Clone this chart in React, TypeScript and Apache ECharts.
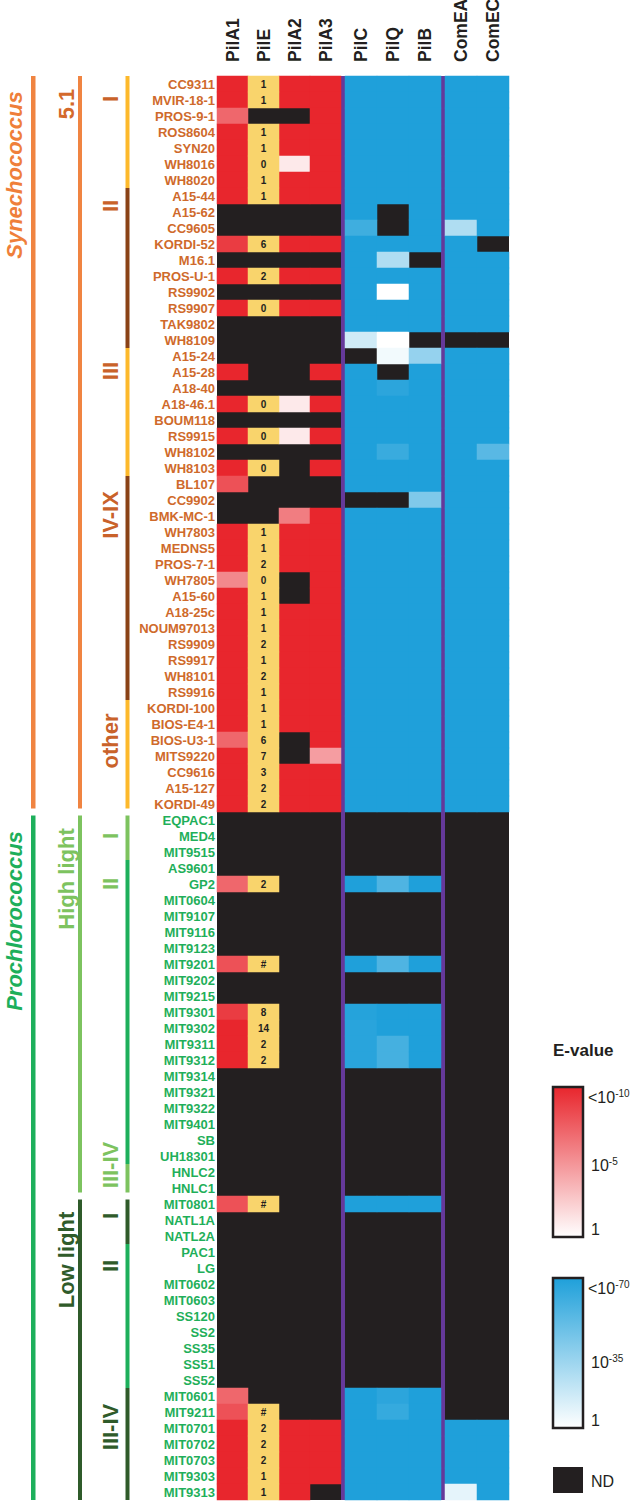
import React, { useEffect, useRef } from 'react';
import * as echarts from 'echarts';

// ---------------- data ----------------
const strains = [
  'CC9311', 'MVIR-18-1', 'PROS-9-1', 'ROS8604', 'SYN20', 'WH8016', 'WH8020', 'A15-44', 'A15-62', 'CC9605',
  'KORDI-52', 'M16.1', 'PROS-U-1', 'RS9902', 'RS9907', 'TAK9802', 'WH8109', 'A15-24', 'A15-28', 'A18-40',
  'A18-46.1', 'BOUM118', 'RS9915', 'WH8102', 'WH8103', 'BL107', 'CC9902', 'BMK-MC-1', 'WH7803', 'MEDNS5',
  'PROS-7-1', 'WH7805', 'A15-60', 'A18-25c', 'NOUM97013', 'RS9909', 'RS9917', 'WH8101', 'RS9916', 'KORDI-100',
  'BIOS-E4-1', 'BIOS-U3-1', 'MITS9220', 'CC9616', 'A15-127', 'KORDI-49', 'EQPAC1', 'MED4', 'MIT9515', 'AS9601',
  'GP2', 'MIT0604', 'MIT9107', 'MIT9116', 'MIT9123', 'MIT9201', 'MIT9202', 'MIT9215', 'MIT9301', 'MIT9302',
  'MIT9311', 'MIT9312', 'MIT9314', 'MIT9321', 'MIT9322', 'MIT9401', 'SB', 'UH18301', 'HNLC2', 'HNLC1',
  'MIT0801', 'NATL1A', 'NATL2A', 'PAC1', 'LG', 'MIT0602', 'MIT0603', 'SS120', 'SS2', 'SS35',
  'SS51', 'SS52', 'MIT0601', 'MIT9211', 'MIT0701', 'MIT0702', 'MIT0703', 'MIT9303', 'MIT9313',
];
const SYN_COUNT = 46;

const colsA = ['PilA1', 'PilE', 'PilA2', 'PilA3'];
const colsB = ['PilC', 'PilQ', 'PilB'];
const colsC = ['ComEA', 'ComEC'];

// E-value exponents (log10); null = not detected
const R = -10; // <1e-10
const B = -70; // <1e-70
const N = null;

const pilA1 = [
  R, R, -7, R, R, R, R, R, N, N,
  -9, N, R, N, R, N, N, N, R, N,
  R, N, R, N, R, -8, N, N, R, R,
  R, -5.5, R, R, R, R, R, R, R, R,
  R, -7, R, R, R, R, N, N, N, N,
  -7, N, N, N, N, -8, N, N, -9, R,
  R, R, N, N, N, N, N, N, N, N,
  -8, N, N, N, N, N, N, N, N, N,
  N, N, -7, -8, R, R, R, R, R,
];
const pilECount = [
  '1', '1', N, '1', '1', '0', '1', '1', N, N,
  '6', N, '2', N, '0', N, N, N, N, N,
  '0', N, '0', N, '0', N, N, N, '1', '1',
  '2', '0', '1', '1', '1', '2', '1', '2', '1', '1',
  '1', '6', '7', '3', '2', '2', N, N, N, N,
  '2', N, N, N, N, '#', N, N, '8', '14',
  '2', '2', N, N, N, N, N, N, N, N,
  '#', N, N, N, N, N, N, N, N, N,
  N, N, N, '#', '2', '2', '2', '1', '1',
];
const pilA2 = [
  R, R, N, R, R, -1, R, R, N, N,
  R, N, R, N, R, N, N, N, N, N,
  -1, N, -1, N, N, N, N, -6, R, R,
  R, N, N, R, R, R, R, R, R, R,
  R, N, N, R, R, R, N, N, N, N,
  N, N, N, N, N, N, N, N, N, N,
  N, N, N, N, N, N, N, N, N, N,
  N, N, N, N, N, N, N, N, N, N,
  N, N, N, N, R, R, R, R, R,
];
const pilA3 = [
  R, R, R, R, R, R, R, R, N, N,
  R, N, R, N, R, N, N, N, R, N,
  R, N, R, N, R, N, N, R, R, R,
  R, R, R, R, R, R, R, R, R, R,
  R, R, -4.5, R, R, R, N, N, N, N,
  N, N, N, N, N, N, N, N, N, N,
  N, N, N, N, N, N, N, N, N, N,
  N, N, N, N, N, N, N, N, N, N,
  N, N, N, N, R, R, R, R, N,
];
const pilC = [
  B, B, B, B, B, B, B, B, B, -60,
  B, B, B, B, B, B, -15, N, B, B,
  B, B, B, B, B, B, N, B, B, B,
  B, B, B, B, B, B, B, B, B, B,
  B, B, B, B, B, B, N, N, N, N,
  B, N, N, N, N, B, N, N, -68, -67,
  -67, -67, N, N, N, N, N, N, N, N,
  B, N, N, N, N, N, N, N, N, N,
  N, N, B, B, B, B, B, B, B,
];
const pilQ = [
  B, B, B, B, B, B, B, B, N, N,
  B, -25, B, 0, B, B, 0, -4, N, -66,
  B, B, B, -62, B, B, N, B, B, B,
  B, B, B, B, B, B, B, B, B, B,
  B, B, B, B, B, B, N, N, N, N,
  -55, N, N, N, N, -55, N, N, B, B,
  -58, -58, N, N, N, N, N, N, N, N,
  B, N, N, N, N, N, N, N, N, N,
  N, N, -66, -63, B, B, B, B, B,
];
const pilB = [
  B, B, B, B, B, B, B, B, B, B,
  B, N, B, B, B, B, N, -33, B, B,
  B, B, B, B, B, B, -40, B, B, B,
  B, B, B, B, B, B, B, B, B, B,
  B, B, B, B, B, B, N, N, N, N,
  B, N, N, N, N, B, N, N, B, B,
  B, B, N, N, N, N, N, N, N, N,
  B, N, N, N, N, N, N, N, N, N,
  N, N, B, B, B, B, B, B, B,
];
const comEA = [
  B, B, B, B, B, B, B, B, B, -25,
  B, B, B, B, B, B, N, B, B, B,
  B, B, B, B, B, B, B, B, B, B,
  B, B, B, B, B, B, B, B, B, B,
  B, B, B, B, B, B, N, N, N, N,
  N, N, N, N, N, N, N, N, N, N,
  N, N, N, N, N, N, N, N, N, N,
  N, N, N, N, N, N, N, N, N, N,
  N, N, N, N, B, B, B, B, -8,
];
const comEC = [
  B, B, B, B, B, B, B, B, B, B,
  N, B, B, B, B, B, N, B, B, B,
  B, B, B, -52, B, B, B, B, B, B,
  B, B, B, B, B, B, B, B, B, B,
  B, B, B, B, B, B, N, N, N, N,
  N, N, N, N, N, N, N, N, N, N,
  N, N, N, N, N, N, N, N, N, N,
  N, N, N, N, N, N, N, N, N, N,
  N, N, N, N, B, B, B, B, B,
];

// taxonomy annotation (row ranges)
const level1 = [
  { name: 'Synechococcus', from: 0, to: 46, bar: '#F08441', text: '#EF7F3A', off: 99 },
  { name: 'Prochlorococcus', from: 46, to: 89, bar: '#1DAF5B', text: '#1DAF5B', off: 109 },
];
const level2 = [
  { name: '5.1', from: 0, to: 46, bar: '#F08441', text: '#D4692C', off: 28 },
  { name: 'High light', from: 46, to: 70, bar: '#7DC35F', text: '#7DC35F', off: 67 },
  { name: 'Low light', from: 70, to: 89, bar: '#2F5B2A', text: '#2F5B2A', off: 64 },
];
const level3 = [
  { name: 'I', from: 0, to: 7, bar: '#FDB92B', text: '#C9622A', off: 23 },
  { name: 'II', from: 7, to: 17, bar: '#8A4216', text: '#C9622A', off: 18 },
  { name: 'III', from: 17, to: 25, bar: '#FDB92B', text: '#C9622A', off: 23 },
  { name: 'IV-IX', from: 25, to: 39, bar: '#8A4216', text: '#C9622A', off: 39 },
  { name: 'other', from: 39, to: 46, bar: '#FDB92B', text: '#C9622A', off: 41 },
  { name: 'I', from: 46, to: 49, bar: '#7DC35F', text: '#7DC35F', off: 24 },
  { name: 'II', from: 49, to: 68, bar: '#1DAF5B', text: '#7DC35F', off: 24 },
  { name: 'III-IV', from: 68, to: 70, bar: '#7DC35F', text: '#7DC35F', off: 1 },
  { name: 'I', from: 70, to: 73, bar: '#2F5B2A', text: '#2F5B2A', off: 20 },
  { name: 'II', from: 73, to: 82, bar: '#1DAF5B', text: '#2F5B2A', off: 22 },
  { name: 'III-IV', from: 82, to: 89, bar: '#2F5B2A', text: '#2F5B2A', off: 39 },
];
const majorBreaks = [46, 70];

// ---------------- style ----------------
const FONT = "'Liberation Sans', Arial, sans-serif";
const ROW_H = 16;
const GRID_TOP = 76;
const GRID_H = ROW_H * strains.length;
const RED = '#E8262D';
const BLUE = '#1FA0DA';
const ND = '#231F20';
const YELLOW = '#F9D46C';
const PURPLE = '#65399A';
const SYN_LABEL = '#CF6A2B';
const PRO_LABEL = '#1FAF5A';

const gridBoxes = [
  { left: 217, width: 124, cols: colsA },
  { left: 345, width: 96, cols: colsB },
  { left: 445, width: 64, cols: colsC },
];

function rowY(r: number) {
  return GRID_TOP + r * ROW_H;
}

function buildOption() {
  const redData: any[] = [];
  [[0, pilA1], [2, pilA2], [3, pilA3]].forEach(([c, arr]: any) => {
    arr.forEach((v: number | null, r: number) => {
      if (v !== null) redData.push([c, r, v]);
    });
  });
  const pilEData: any[] = [];
  pilECount.forEach((v, r) => {
    if (v !== null) pilEData.push({ value: [1, r, 1], name: v });
  });
  const blueB: any[] = [];
  [pilC, pilQ, pilB].forEach((arr, c) => {
    arr.forEach((v, r) => {
      if (v !== null) blueB.push([c, r, v]);
    });
  });
  const blueC: any[] = [];
  [comEA, comEC].forEach((arr, c) => {
    arr.forEach((v, r) => {
      if (v !== null) blueC.push([c, r, v]);
    });
  });

  const grid = gridBoxes.map((g) => ({
    left: g.left,
    width: g.width,
    top: GRID_TOP,
    height: GRID_H,
    show: true,
    backgroundColor: ND,
    borderWidth: 0,
    containLabel: false,
    outerBoundsMode: 'none',
  }));

  const xAxis = gridBoxes.map((g, i) => ({
    type: 'category',
    gridIndex: i,
    position: 'top',
    data: g.cols,
    axisLine: { show: false },
    axisTick: { show: false },
    splitLine: { show: false },
    axisLabel: { show: false },
  }));

  const yAxis = [0, 1, 2].map((i) => ({
    type: 'category',
    gridIndex: i,
    inverse: true,
    data: strains,
    axisLine: { show: false },
    axisTick: { show: false },
    splitLine: { show: false },
    axisLabel: i === 0
      ? {
          show: true,
          interval: 0,
          margin: 2,
          formatter: (v: string, idx: number) => (idx < SYN_COUNT ? `{s|${v}}` : `{p|${v}}`),
          rich: {
            s: { color: SYN_LABEL, fontWeight: 'bold', fontSize: 13, fontFamily: FONT },
            p: { color: PRO_LABEL, fontWeight: 'bold', fontSize: 13, fontFamily: FONT },
          },
        }
      : { show: false },
  }));

  const commonHeat = {
    type: 'heatmap',
    progressive: 0,
    emphasis: { disabled: true },
    itemStyle: { borderWidth: 0 },
  };

  const series = [
    { ...commonHeat, name: 'red', xAxisIndex: 0, yAxisIndex: 0, data: redData },
    {
      ...commonHeat,
      name: 'PilE',
      xAxisIndex: 0,
      yAxisIndex: 0,
      data: pilEData,
      itemStyle: { color: YELLOW, borderWidth: 0 },
      label: {
        show: true,
        formatter: (p: any) => p.name,
        fontSize: 10,
        fontWeight: 'bold',
        fontFamily: FONT,
        color: '#231F20',
      },
    },
    { ...commonHeat, name: 'blueB', xAxisIndex: 1, yAxisIndex: 1, data: blueB },
    { ...commonHeat, name: 'blueC', xAxisIndex: 2, yAxisIndex: 2, data: blueC },
  ];

  const visualMap = [
    { type: 'continuous', show: false, seriesIndex: 0, dimension: 2, min: -10, max: 0, inRange: { color: [RED, '#FFFFFF'] } },
    { type: 'continuous', show: false, seriesIndex: 1, dimension: 2, min: 0, max: 2, inRange: { color: [YELLOW, YELLOW] } },
    { type: 'continuous', show: false, seriesIndex: [2, 3], dimension: 2, min: -70, max: 0, inRange: { color: [BLUE, '#FFFFFF'] } },
  ];

  // ---- graphic: column headers, separators, taxonomy bars, legend ----
  const graphic: any[] = [];
  gridBoxes.forEach((g) => {
    const w = g.width / g.cols.length;
    g.cols.forEach((name, i) => {
      graphic.push({
        type: 'text',
        silent: true,
        x: g.left + (i + 0.5) * w,
        y: GRID_TOP - 14,
        rotation: Math.PI / 2,
        style: {
          text: name,
          fill: '#231F20',
          fontSize: 17.5,
          fontWeight: 'bold',
          fontFamily: FONT,
          align: 'left',
          verticalAlign: 'middle',
        },
      });
    });
  });
  graphic.push({ type: 'rect', silent: true, shape: { x: 341, y: GRID_TOP, width: 4, height: GRID_H }, style: { fill: PURPLE } });
  graphic.push({ type: 'rect', silent: true, shape: { x: 441, y: GRID_TOP, width: 4, height: GRID_H }, style: { fill: PURPLE } });

  const levels = [
    { items: level1, barX: 31, barW: 4.5, textX: 14, fontSize: 22, italic: true },
    { items: level2, barX: 78, barW: 4, textX: 66, fontSize: 22, italic: false },
    { items: level3, barX: 125.5, barW: 4, textX: 110, fontSize: 22, italic: false },
  ];
  levels.forEach((lv) => {
    lv.items.forEach((it) => {
      const gTop = it.from === 0 ? 0 : majorBreaks.includes(it.from) ? 3.5 : 0;
      const gBot = it.to === strains.length ? 0 : majorBreaks.includes(it.to) ? 3.5 : 0;
      const y0 = rowY(it.from) + gTop;
      const y1 = rowY(it.to) - gBot;
      graphic.push({
        type: 'rect',
        silent: true,
        shape: { x: lv.barX, y: y0, width: lv.barW, height: y1 - y0 },
        style: { fill: it.bar },
      });
      graphic.push({
        type: 'text',
        silent: true,
        x: lv.textX,
        y: rowY(it.from) + it.off,
        rotation: Math.PI / 2,
        style: {
          text: it.name,
          fill: it.text,
          fontSize: lv.fontSize,
          fontWeight: 'bold',
          fontStyle: lv.italic ? 'italic' : 'normal',
          fontFamily: FONT,
          align: 'center',
          verticalAlign: 'middle',
        },
      });
    });
  });

  // legend
  const legX = 553;
  const legW = 30;
  const supRich = {
    s: { fontSize: 10, fontFamily: FONT, fill: '#231F20', verticalAlign: 'top', lineHeight: 18 },
  };
  const legText = (text: string, x: number, y: number) => ({
    type: 'text',
    silent: true,
    x,
    y,
    style: {
      text,
      fill: '#231F20',
      fontSize: 16,
      fontFamily: FONT,
      lineHeight: 18,
      align: 'left',
      verticalAlign: 'middle',
      rich: supRich,
    },
  });
  graphic.push({
    type: 'text',
    silent: true,
    x: legX,
    y: 1050,
    style: { text: 'E-value', fill: '#231F20', fontSize: 17, fontWeight: 'bold', fontFamily: FONT, align: 'left', verticalAlign: 'middle' },
  });
  graphic.push({
    type: 'rect',
    silent: true,
    shape: { x: legX, y: 1087, width: legW, height: 150 },
    style: {
      fill: { type: 'linear', x: 0, y: 0, x2: 0, y2: 1, colorStops: [{ offset: 0, color: RED }, { offset: 1, color: '#FFFFFF' }] },
      stroke: '#231F20',
      lineWidth: 2.5,
    },
  });
  graphic.push(legText('<10{s|-10}', 588, 1097));
  graphic.push(legText('10{s|-5}', 591, 1165));
  graphic.push(legText('1', 591, 1229));
  graphic.push({
    type: 'rect',
    silent: true,
    shape: { x: legX, y: 1278, width: legW, height: 150 },
    style: {
      fill: { type: 'linear', x: 0, y: 0, x2: 0, y2: 1, colorStops: [{ offset: 0, color: BLUE }, { offset: 1, color: '#FFFFFF' }] },
      stroke: '#231F20',
      lineWidth: 2.5,
    },
  });
  graphic.push(legText('<10{s|-70}', 588, 1288));
  graphic.push(legText('10{s|-35}', 591, 1362));
  graphic.push(legText('1', 591, 1420));
  graphic.push({
    type: 'rect',
    silent: true,
    shape: { x: legX, y: 1467, width: legW, height: 26 },
    style: { fill: ND },
  });
  graphic.push(legText('ND', 591, 1481));

  return {
    animation: false,
    backgroundColor: '#FFFFFF',
    grid,
    xAxis,
    yAxis,
    visualMap,
    series,
    graphic,
  };
}

export default function App() {
  const ref = useRef<HTMLDivElement>(null);
  useEffect(() => {
    if (!ref.current) return;
    const chart = echarts.init(ref.current, null, { renderer: 'svg' });
    chart.setOption(buildOption() as any);
    return () => chart.dispose();
  }, []);
  return (
    <div
      ref={ref}
      style={{ position: 'absolute', left: 0, top: 0, width: 641, height: 1505, background: '#FFFFFF' }}
    />
  );
}
